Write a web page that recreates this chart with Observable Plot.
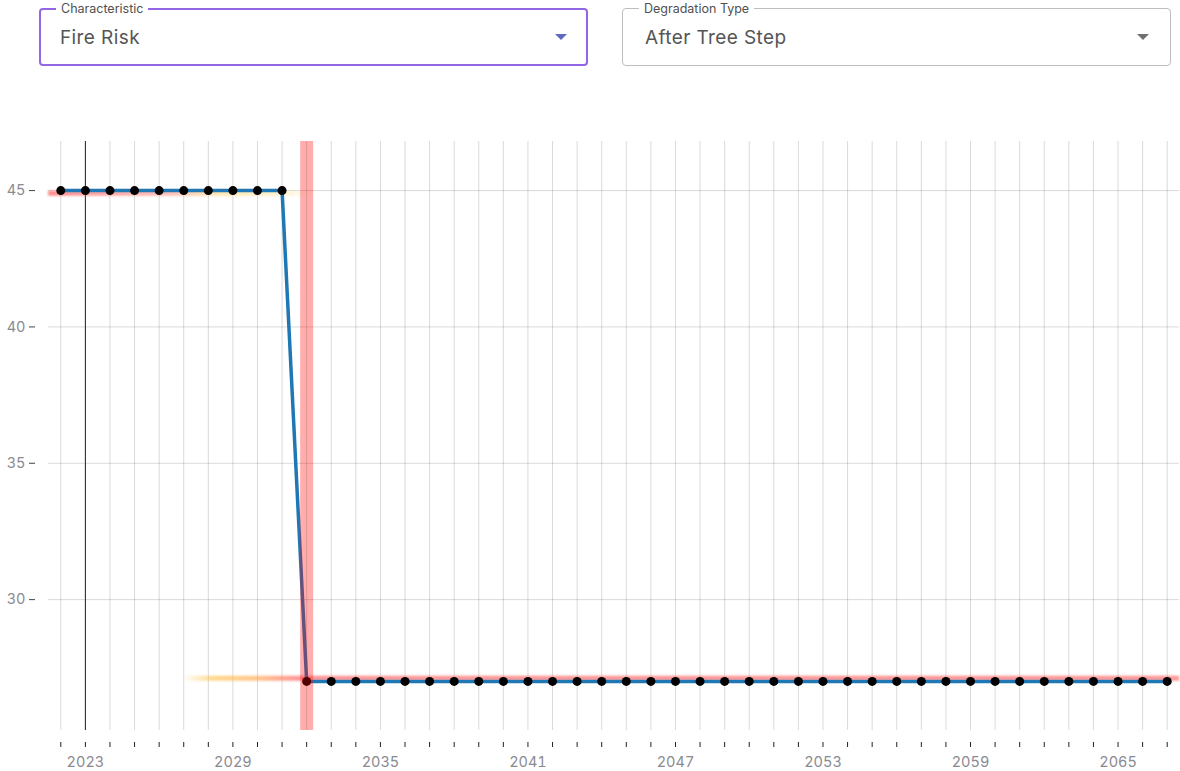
<!DOCTYPE html>
<html>
<head>
<meta charset="utf-8">
<script src="https://cdn.jsdelivr.net/npm/d3@7"></script>
<script src="https://cdn.jsdelivr.net/npm/@observablehq/plot@0.6"></script>
<style>
  body { margin: 0; width: 1180px; height: 771px; overflow: hidden; background: #fff; position: relative; font-family: Inter, Roboto, sans-serif; }
  .sel { position: absolute; top: 8px; height: 58px; box-sizing: border-box; border-radius: 4px; }
  .sel .lab { position: absolute; top: -8px; padding: 0 5px; background: #fff; font-size: 12.5px; color: #505050; line-height: 14px; }
  .sel .val { position: absolute; top: 17px; font-size: 19px; color: #555; line-height: 24px; letter-spacing: 0.4px; }
  .sel .arr { position: absolute; width: 0; height: 0; border-left: 6.5px solid transparent; border-right: 6.5px solid transparent; border-top: 6px solid; }
  #sel1 { left: 39px; width: 549px; border: 2px solid #9366e6; }
  #sel1 .lab { left: 15px; }
  #sel1 .val { left: 19px; top: 16px; }
  #sel1 .arr { right: 19px; top: 24px; border-top-color: #5c6bc0; }
  #sel2 { left: 622px; width: 549px; border: 1px solid #bdbdbd; }
  #sel2 .lab { left: 16px; top: -7px; }
  #sel2 .val { left: 22px; }
  #sel2 .arr { right: 21px; top: 25px; border-top-color: #707070; }
  #plot { position: absolute; left: 0; top: 80px; }
</style>
</head>
<body>
<div class="sel" id="sel1"><span class="lab">Characteristic</span><span class="val">Fire Risk</span><span class="arr"></span></div>
<div class="sel" id="sel2"><span class="lab">Degradation Type</span><span class="val">After Tree Step</span><span class="arr"></span></div>
<div id="plot"></div>
<script>
// ---- data ----
const years = [2022, 2023, 2024, 2025, 2026, 2027, 2028, 2029, 2030, 2031,
  2032, 2033, 2034, 2035, 2036, 2037, 2038, 2039, 2040, 2041,
  2042, 2043, 2044, 2045, 2046, 2047, 2048, 2049, 2050, 2051,
  2052, 2053, 2054, 2055, 2056, 2057, 2058, 2059, 2060, 2061,
  2062, 2063, 2064, 2065, 2066, 2067];
const fireRisk = [45, 45, 45, 45, 45, 45, 45, 45, 45, 45,
  27, 27, 27, 27, 27, 27, 27, 27, 27, 27,
  27, 27, 27, 27, 27, 27, 27, 27, 27, 27,
  27, 27, 27, 27, 27, 27, 27, 27, 27, 27,
  27, 27, 27, 27, 27, 27];
const currentYear = [2023];
const stepYear = [2032];
const yTicks = [30, 35, 40, 45];
const labelYears = [2023, 2029, 2035, 2041, 2047, 2053, 2059, 2065];
// degradation glow bands (before / after step)
const glowLevels = [44.9, 27.12];
const glowStarts = [2021.5, 2027];
const glowEnds = [2032.3, 2067.5];
const glowBeforeStopYears = [2021.5, 2026, 2028.5, 2031, 2032.3];
const glowAfterStopYears = [2027, 2028.2, 2030, 2031.6, 2067.5];

// ---- styling (not data) ----
const glowBeforeColors = [["#ff5050", 0.65], ["#ff7070", 0.5], ["#ffd060", 0.5], ["#ffe080", 0.4], ["#ffe080", 0]];
const glowAfterColors = [["#ffc040", 0], ["#ffc040", 0.6], ["#ffa040", 0.6], ["#ff5050", 0.6], ["#ff5050", 0.6]];

const series = years.map((y, i) => ({year: y, value: fireRisk[i]}));

function glowDefs(index, scales) {
  const defs = d3.create("svg:defs");
  const f = defs.append("filter").attr("id", "glowBlur").attr("filterUnits", "userSpaceOnUse")
    .attr("x", 0).attr("y", 0).attr("width", 1180).attr("height", 691);
  f.append("feGaussianBlur").attr("stdDeviation", 1.3);
  const grad = (id, stopYears, colors) => {
    const g = defs.append("linearGradient").attr("id", id).attr("gradientUnits", "userSpaceOnUse")
      .attr("x1", scales.x(stopYears[0])).attr("x2", scales.x(stopYears[stopYears.length - 1]))
      .attr("y1", 0).attr("y2", 0);
    const x0 = stopYears[0], span = stopYears[stopYears.length - 1] - x0;
    stopYears.forEach((s, i) => {
      g.append("stop").attr("offset", (s - x0) / span)
        .attr("stop-color", colors[i][0]).attr("stop-opacity", colors[i][1]);
    });
  };
  grad("glowBefore", glowBeforeStopYears, glowBeforeColors);
  grad("glowAfter", glowAfterStopYears, glowAfterColors);
  return defs.node();
}

const chart = Plot.plot({
  width: 1180,
  height: 691,
  marginTop: 61,
  marginBottom: 41,
  marginLeft: 48,
  marginRight: 1,
  x: {type: "linear", domain: [years[0] - 0.5, years[years.length - 1] + 0.5]},
  y: {domain: [25.2, 46.8]},
  style: {fontFamily: "Inter, Roboto, sans-serif", fontSize: "14px", background: "transparent", overflow: "visible"},
  marks: [
    glowDefs,
    Plot.gridY({ticks: yTicks, stroke: "#000", strokeOpacity: 0.15}),
    Plot.gridX({ticks: years, stroke: "#000", strokeOpacity: 0.15}),
    Plot.axisY({ticks: yTicks, dx: -13, tickSize: 6, tickPadding: 4, fontSize: 14.5, fill: "#8a8a92", stroke: "#444", label: null}),
    Plot.axisX({ticks: years, tickFormat: d => labelYears.includes(d) ? String(d) : "", dy: 12, tickSize: 5, tickPadding: 9, fontSize: 14.5, fill: "#8a8a92", stroke: "#222", label: null}),
    Plot.ruleX(currentYear, {stroke: "#222", strokeWidth: 1}),
    Plot.ruleY([glowLevels[0]], {x1: glowStarts[0], x2: glowEnds[0], stroke: "url(#glowBefore)", strokeWidth: 5, ariaDescription: "glow"}),
    Plot.ruleY([glowLevels[1]], {x1: glowStarts[1], x2: glowEnds[1], stroke: "url(#glowAfter)", strokeWidth: 5, ariaDescription: "glow"}),
    Plot.line(series, {x: "year", y: "value", stroke: "#1f77b4", strokeWidth: 3.5}),
    Plot.dot(series, {x: "year", y: "value", fill: "#000", r: 4.5}),
    Plot.ruleX(stepYear, {stroke: "#ff0000", strokeOpacity: 0.32, strokeWidth: 13})
  ]
});
d3.select(chart).selectAll('[aria-description="glow"]').attr("filter", "url(#glowBlur)");
document.getElementById("plot").appendChild(chart);
</script>
</body>
</html>
